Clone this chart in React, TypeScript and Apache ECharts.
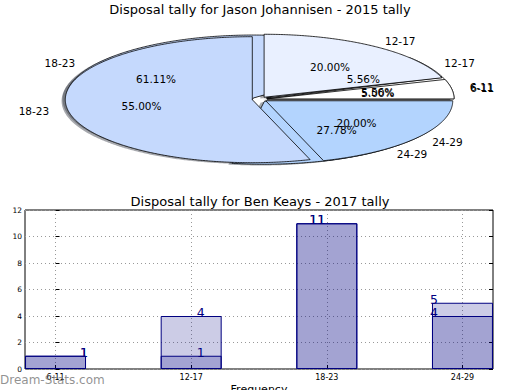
import React, { useEffect, useRef } from 'react';
import * as echarts from 'echarts';

const categories = ['6-11', '12-17', '18-23', '24-29'];
const pieTopValues = [1, 4, 11, 4];
const pieUnderValues = [1, 1, 11, 5];
const barBackValues = [1, 4, 11, 5];
const barFrontValues = [1, 1, 11, 4];
const sliceColors = ['#ffffff', '#e9f0ff', '#c5d9fd', '#b3d4fe'];

const PIE = { cx: 259.7, cy: 99.3, rx: 187, ry: 63, explode: 0.04 };
const FONT = '"DejaVu Sans", sans-serif';

type Wedge = { i: number; a1: number; a2: number; pct: number; ox: number; oy: number; mid: number };

function makeWedges(values: number[]): Wedge[] {
  const total = values.reduce((a, b) => a + b, 0);
  let acc = 0;
  return values.map((v, i) => {
    const a1 = (acc / total) * 360;
    acc += v;
    const a2 = (acc / total) * 360;
    const mid = ((a1 + a2) / 2) * Math.PI / 180;
    const ox = PIE.cx + PIE.explode * PIE.rx * Math.cos(mid);
    const oy = PIE.cy - PIE.explode * PIE.ry * Math.sin(mid);
    return { i, a1, a2, pct: (v / total) * 100, ox, oy, mid };
  });
}

const pies = [makeWedges(pieUnderValues), makeWedges(pieTopValues)];

function wedgePoints(w: Wedge, dx: number, dy: number): number[][] {
  const pts: number[][] = [[w.ox + dx, w.oy + dy]];
  const steps = Math.max(2, Math.ceil((w.a2 - w.a1) / 0.5));
  for (let k = 0; k <= steps; k++) {
    const t = ((w.a1 + ((w.a2 - w.a1) * k) / steps) * Math.PI) / 180;
    pts.push([w.ox + dx + PIE.rx * Math.cos(t), w.oy + dy - PIE.ry * Math.sin(t)]);
  }
  return pts;
}

function darken(hex: string, f: number): string {
  const n = parseInt(hex.slice(1), 16);
  const r = Math.round(((n >> 16) & 255) * f);
  const g = Math.round(((n >> 8) & 255) * f);
  const b = Math.round((n & 255) * f);
  return `rgba(${r},${g},${b},0.45)`;
}

function pieLayerSeries(layer: 'shadow' | 'wedge' | 'label', pieIndexes: number[], z: number) {
  const data: number[][] = [];
  pieIndexes.forEach((p) => {
    const vals = p === 0 ? pieUnderValues : pieTopValues;
    vals.forEach((v, i) => data.push([p, i, v]));
  });
  return {
    type: 'custom',
    coordinateSystem: 'none',
    silent: true,
    z,
    data,
    renderItem: (_params: any, api: any) => {
      const p = api.value(0);
      const i = api.value(1);
      const w = pies[p][i];
      if (layer === 'shadow') {
        return {
          type: 'polygon',
          shape: { points: wedgePoints(w, -0.02 * PIE.rx, 0.02 * PIE.ry) },
          style: { fill: darken(sliceColors[i], 0.3), stroke: 'none' },
        };
      }
      if (layer === 'wedge') {
        return {
          type: 'polygon',
          shape: { points: wedgePoints(w, 0, 0) },
          style: { fill: sliceColors[i], stroke: '#000', lineWidth: 0.8, lineJoin: 'round' },
        };
      }
      const c = Math.cos(w.mid);
      const s = Math.sin(w.mid);
      return {
        type: 'group',
        children: [
          {
            type: 'text',
            x: w.ox + 1.1 * PIE.rx * c,
            y: w.oy - 1.1 * PIE.ry * s,
            style: {
              text: categories[i],
              fill: '#000',
              font: `10.5px ${FONT}`,
              align: c > 0 ? 'left' : 'right',
              verticalAlign: 'middle',
            },
          },
          {
            type: 'text',
            x: w.ox + 0.6 * PIE.rx * c,
            y: w.oy - 0.6 * PIE.ry * s,
            style: {
              text: `${w.pct.toFixed(2)}%`,
              fill: '#000',
              font: `10.5px ${FONT}`,
              align: 'center',
              verticalAlign: 'middle',
            },
          },
        ],
      };
    },
  };
}

function barSeries(values: number[], z: number) {
  return {
    type: 'bar',
    xAxisIndex: 0,
    yAxisIndex: 0,
    z,
    barWidth: 61,
    barGap: '-100%',
    data: values.map((v, i) => ({ value: [i, v], label: { offset: [(1.5 - i) * 19, 0] } })),
    itemStyle: { color: 'rgba(0,0,128,0.2)', borderColor: '#000080', borderWidth: 1 },
    label: {
      show: true,
      position: 'top',
      distance: -3,
      color: '#000080',
      fontSize: 12.5,
      fontFamily: FONT,
      formatter: (p: any) => String(p.value[1]),
    },
  };
}

export default function App() {
  const ref = useRef<HTMLDivElement>(null);
  useEffect(() => {
    if (!ref.current) return;
    const chart = echarts.init(ref.current, undefined, { renderer: 'svg' });
    const tickIdx = categories.map((_, i) => i);
    const titleStyle = { fontFamily: FONT, fontSize: 13, fontWeight: 'normal' as const, color: '#000' };
    chart.setOption({
      animation: false,
      backgroundColor: '#fff',
      textStyle: { fontFamily: FONT },
      title: [
        { text: 'Disposal tally for Jason Johannisen - 2015 tally', left: 'center', top: 3, padding: 0, textStyle: titleStyle },
        { text: 'Disposal tally for Ben Keays - 2017 tally', left: 'center', top: 195, padding: 0, textStyle: titleStyle },
      ],
      grid: {
        left: 25,
        right: 27,
        top: 210,
        bottom: 21,
        show: true,
        borderColor: '#000',
        borderWidth: 1,
        backgroundColor: 'transparent',
        containLabel: false,
        outerBoundsMode: 'none',
      },
      xAxis: [
        {
          type: 'value',
          min: -0.225,
          max: 3.225,
          axisLine: { show: false },
          axisTick: { show: true, inside: true, length: 4, customValues: tickIdx, lineStyle: { color: '#000' } },
          axisLabel: {
            customValues: tickIdx,
            formatter: (v: number) => categories[Math.round(v)] ?? '',
            fontSize: 8,
            color: '#000',
            margin: 4,
          },
          splitLine: { show: true, lineStyle: { type: [1, 3], color: '#999', width: 1 } },
          name: 'Frequency',
          nameLocation: 'middle',
          nameGap: 15,
          nameTextStyle: { fontSize: 11, color: '#000', fontFamily: FONT },
        },
      ],
      yAxis: [
        {
          type: 'value',
          min: 0,
          max: 12,
          interval: 2,
          axisLine: { show: false },
          axisTick: { show: true, inside: true, length: 4, lineStyle: { color: '#000' } },
          axisLabel: { fontSize: 7.5, color: '#000', margin: 3 },
          splitLine: { show: true, lineStyle: { type: [1, 3], color: '#999', width: 1 } },
        },
        {
          type: 'value',
          position: 'right',
          min: 0,
          max: 12,
          interval: 2,
          axisLine: { show: false },
          axisTick: { show: true, inside: true, length: 4, lineStyle: { color: '#000' } },
          axisLabel: { show: false },
          splitLine: { show: false },
        },
      ],
      graphic: [
        {
          type: 'text',
          left: 0,
          top: 374,
          z: 100,
          style: { text: 'Dream-Stats.com', font: `12px ${FONT}`, fill: 'rgba(110,110,110,0.75)' },
        },
      ],
      series: [
        pieLayerSeries('shadow', [0, 1], 1),
        pieLayerSeries('wedge', [0], 2),
        pieLayerSeries('wedge', [1], 3),
        pieLayerSeries('label', [0, 1], 4),
        barSeries(barBackValues, 2),
        barSeries(barFrontValues, 3),
      ],
    });
    return () => chart.dispose();
  }, []);
  return <div ref={ref} style={{ position: 'fixed', left: 0, top: 0, width: 520, height: 390 }} />;
}
